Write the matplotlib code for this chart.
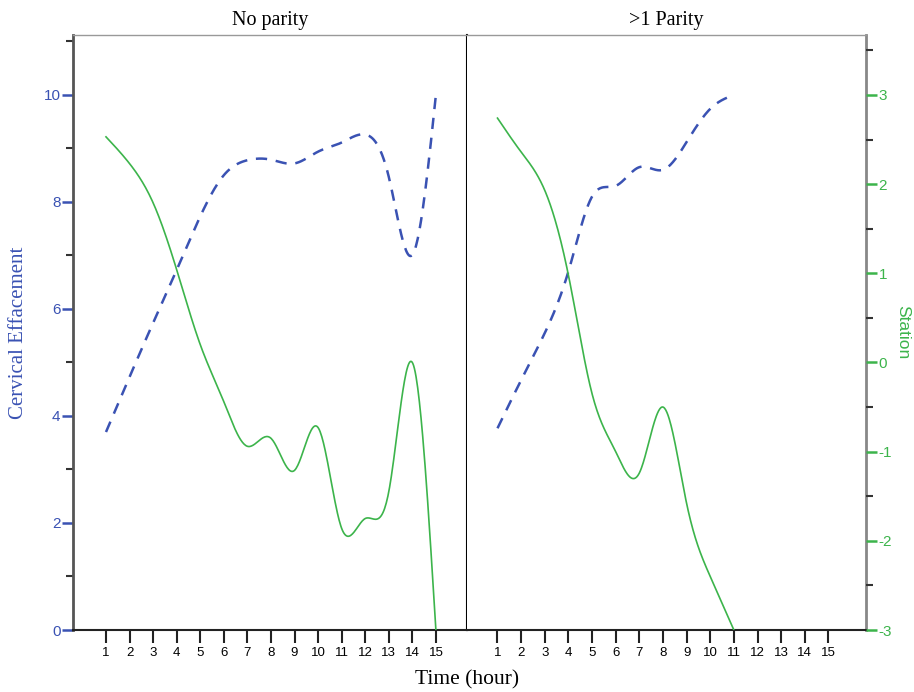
import numpy as np
import matplotlib
matplotlib.use("Agg")
import matplotlib.pyplot as plt
from matplotlib.ticker import MultipleLocator

# ---------------- data ----------------
hours = [1, 2, 3, 4, 5, 6, 7, 8, 9, 10, 11, 12, 13, 14, 15]
hours_multi = [1, 2, 3, 4, 5, 6, 7, 8, 9, 10, 11]
panel_titles = ["No parity", ">1 Parity"]

effacement_nulli = [3.70, 4.73, 5.74, 6.73, 7.73, 8.50, 8.78, 8.79, 8.72, 8.94, 9.11, 9.26, 8.47, 7.01, 10.0]
station_nulli = [2.53, 2.23, 1.79, 1.04, 0.20, -0.44, -0.94, -0.85, -1.21, -0.73, -1.86, -1.75, -1.45, 0.0, -3.0]

effacement_multi = [3.77, 4.67, 5.55, 6.70, 8.10, 8.30, 8.65, 8.60, 9.12, 9.74, 10.0]
station_multi = [2.74, 2.36, 1.93, 0.98, -0.35, -1.00, -1.24, -0.50, -1.58, -2.40, -3.0]

xtick_labels = [str(h) for h in range(1, 16)]
eff_ticks = [0, 2, 4, 6, 8, 10]
station_ticks = [-3, -2, -1, 0, 1, 2, 3]

BLUE = "#3a52b3"
GREEN = "#3cb44b"


def natural_spline(x, y, n=400):
    x = np.asarray(x, float)
    y = np.asarray(y, float)
    m = len(x)
    h = np.diff(x)
    A = np.zeros((m, m))
    b = np.zeros(m)
    A[0, 0] = 1
    A[-1, -1] = 1
    for i in range(1, m - 1):
        A[i, i - 1] = h[i - 1]
        A[i, i] = 2 * (h[i - 1] + h[i])
        A[i, i + 1] = h[i]
        b[i] = 3 * ((y[i + 1] - y[i]) / h[i] - (y[i] - y[i - 1]) / h[i - 1])
    c = np.linalg.solve(A, b)
    xs = np.linspace(x[0], x[-1], n)
    ys = np.empty_like(xs)
    for k, xv in enumerate(xs):
        i = min(np.searchsorted(x, xv, side="right") - 1, m - 2)
        dx = xv - x[i]
        bi = (y[i + 1] - y[i]) / h[i] - h[i] * (2 * c[i] + c[i + 1]) / 3
        di = (c[i + 1] - c[i]) / (3 * h[i])
        ys[k] = y[i] + bi * dx + c[i] * dx ** 2 + di * dx ** 3
    return xs, ys


W, H = 914, 692
fig = plt.figure(figsize=(W / 100, H / 100), dpi=100)

x_left, x_div, x_right = 73, 467, 866
y_top, y_bot = 35, 630
b = 1 - y_bot / H
h = (y_bot - y_top) / H

axL = fig.add_axes([x_left / W, b, (x_div - x_left) / W, h])
axR = fig.add_axes([x_div / W, b, (x_right - x_div) / W, h])

eff_top = 11.12
st_lim = (-3, -3 + 0.6 * eff_top)

xlims = [(-0.40, 16.32), (-0.29, 16.59)]

tick_font = {"family": ["Liberation Sans Narrow", "Liberation Sans", "DejaVu Sans"], "size": 9.5}

for ax, xl, title in zip([axL, axR], xlims, panel_titles):
    ax.set_xlim(*xl)
    ax.set_ylim(0, eff_top)
    ax.set_xticks(hours)
    ax.set_xticklabels(xtick_labels, fontdict=tick_font)
    ax.tick_params(axis="x", direction="out", length=9, width=1.5, color="#222222", pad=3)
    ax.set_title(title, family="Liberation Serif", fontsize=14.5, pad=7)
    ax.spines["top"].set_color("#999999")
    ax.spines["top"].set_linewidth(1.0)
    ax.spines["bottom"].set_color("#222222")
    ax.spines["bottom"].set_linewidth(1.5)

# left panel axes styling
axL.spines["right"].set_color("black")
axL.spines["right"].set_linewidth(1.5)
axL.spines["left"].set_color("#555555")
axL.spines["left"].set_linewidth(2.0)
axL.set_yticks(eff_ticks)
axL.set_yticklabels([str(t) for t in eff_ticks], color=BLUE,
                    family=["Liberation Sans", "DejaVu Sans"], fontsize=11)
axL.yaxis.set_minor_locator(MultipleLocator(1))
axL.tick_params(axis="y", which="major", direction="out", length=8, width=1.8, color=BLUE, pad=1)
axL.tick_params(axis="y", which="minor", direction="out", length=5, width=1.5, color="#333333")
axL.set_ylabel("Cervical Effacement", color=BLUE, family="Liberation Serif", fontsize=15, labelpad=11)

axR.spines["left"].set_visible(False)
axR.spines["right"].set_color("#888888")
axR.spines["right"].set_linewidth(2.0)
axR.set_yticks([])

# twin axes for station
twL = axL.twinx()
twR = axR.twinx()
for tw in (twL, twR):
    tw.set_ylim(*st_lim)
    for s in tw.spines.values():
        s.set_visible(False)
twL.set_yticks([])
twR.set_yticks(station_ticks)
twR.set_yticklabels([str(t) for t in station_ticks], color=GREEN,
                    family=["Liberation Sans", "DejaVu Sans"], fontsize=11)
twR.yaxis.set_minor_locator(MultipleLocator(0.5))
twR.tick_params(axis="y", which="major", direction="out", length=8, width=1.8, color=GREEN, pad=1)
twR.tick_params(axis="y", which="minor", direction="out", length=5, width=1.5, color="#333333")
twR.set_ylabel("Station", color=GREEN, family=["Liberation Sans", "DejaVu Sans"],
               fontsize=12.5, rotation=270, labelpad=13)

# lines
for ax, tw, xs, eff, st in [(axL, twL, hours, effacement_nulli, station_nulli),
                            (axR, twR, hours_multi, effacement_multi, station_multi)]:
    sx, sy = natural_spline(xs, eff)
    ax.plot(sx, sy, color=BLUE, lw=1.8, dashes=(4.5, 3.5), clip_on=False)
    gx, gy = natural_spline(xs, st)
    tw.plot(gx, gy, color=GREEN, lw=1.2, clip_on=True)

fig.text(x_div / W, 1 - 680 / H, "Time (hour)", ha="center", va="center",
         family="Liberation Serif", fontsize=15.5)

fig.savefig("out.png", dpi=100)
